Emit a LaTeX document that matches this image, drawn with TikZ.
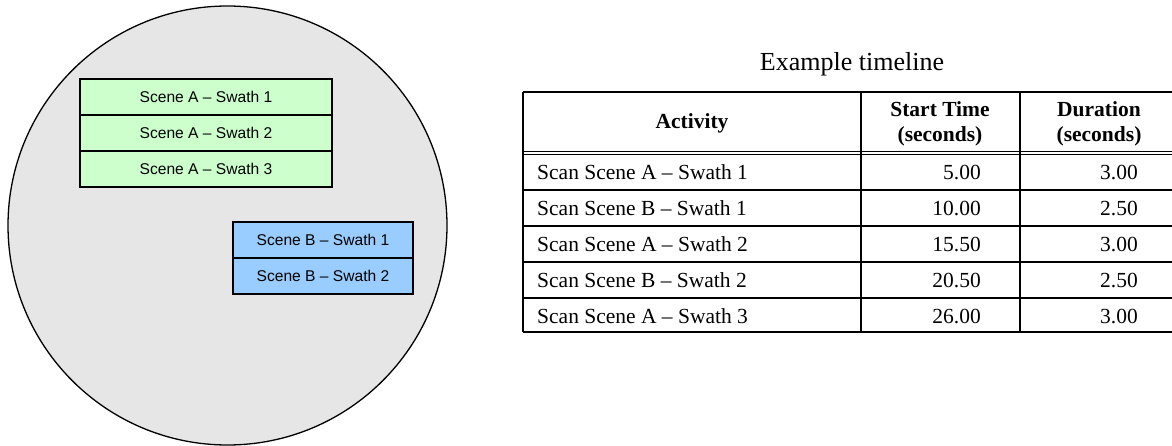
\documentclass[tikz,border=0pt]{standalone}
\usepackage{fontspec}
\setmainfont{Liberation Serif}
\setsansfont{Liberation Sans}
\usetikzlibrary{positioning}
\definecolor{scenegreen}{HTML}{CCFFCC}
\definecolor{sceneblue}{HTML}{99CCFF}
\definecolor{fovgray}{HTML}{E6E6E6}

\begin{document}
\begin{tikzpicture}[x=1pt,y=-1pt,
		swath/.style={draw=black, line width=1.8pt, outer sep=0pt, inner sep=0pt, minimum height=36pt, font=\sffamily\fontsize{15.6}{18}\selectfont},
		cell/.style={inner sep=0pt, font=\fontsize{21.5}{25}\selectfont},
		head/.style={cell, align=center, font=\bfseries\fontsize{21.5}{25}\selectfont},
		rule/.style={line width=1.2pt}]
		\useasboundingbox (0,0) rectangle (1172,446);
		% field of view with the scene swaths
		\node[circle, draw=black, line width=1.3pt, fill=fovgray, minimum size=439pt, inner sep=0pt] (fov) at (227.5,225.5) {};
		\node[swath, fill=scenegreen, minimum width=252pt] (a1) at (206,97) {Scene A -- Swath 1};
		\node[swath, fill=scenegreen, minimum width=252pt] (a2) [below=0pt of a1] {Scene A -- Swath 2};
		\node[swath, fill=scenegreen, minimum width=252pt] (a3) [below=0pt of a2] {Scene A -- Swath 3};
		\node[swath, fill=sceneblue, minimum width=180pt] (b1) at (323,240) {Scene B -- Swath 1};
		\node[swath, fill=sceneblue, minimum width=180pt] (b2) [below=0pt of b1] {Scene B -- Swath 2};
		% timeline table
		\node[font=\fontsize{26}{30}\selectfont] (title) at (852,64) {Example timeline};
		\draw[rule] (523,92) -- (1172,92);
		\draw[line width=0.9pt] (523,151) -- (1172,151) (523,154.5) -- (1172,154.5);
		\foreach \y in {190,226,262,298,332}
			\draw[rule] (523,\y) -- (1172,\y);
		\foreach \x in {523,861,1020}
			\draw[rule] (\x,92) -- (\x,332);
		\node[head] (hact) at (692,123) {Activity};
		\node[head] (hstart) at (940,123.5) {Start Time\\(seconds)};
		\node[head] (hdur) at (1099,123.5) {Duration\\(seconds)};
		\foreach \act/\start/\dur [count=\i] in {A -- Swath 1/5.00/3.00, B -- Swath 1/10.00/2.50, A -- Swath 2/15.50/3.00, B -- Swath 2/20.50/2.50, A -- Swath 3/26.00/3.00}{
			\node[cell, anchor=west] (act\i) at (537,136.5+36*\i) {Scan Scene \act};
			\node[cell, anchor=east] (start\i) at (981,136.5+36*\i) {\start};
			\node[cell, anchor=east] (dur\i) at (1138,136.5+36*\i) {\dur};
		}
	\end{tikzpicture}
\end{document}
